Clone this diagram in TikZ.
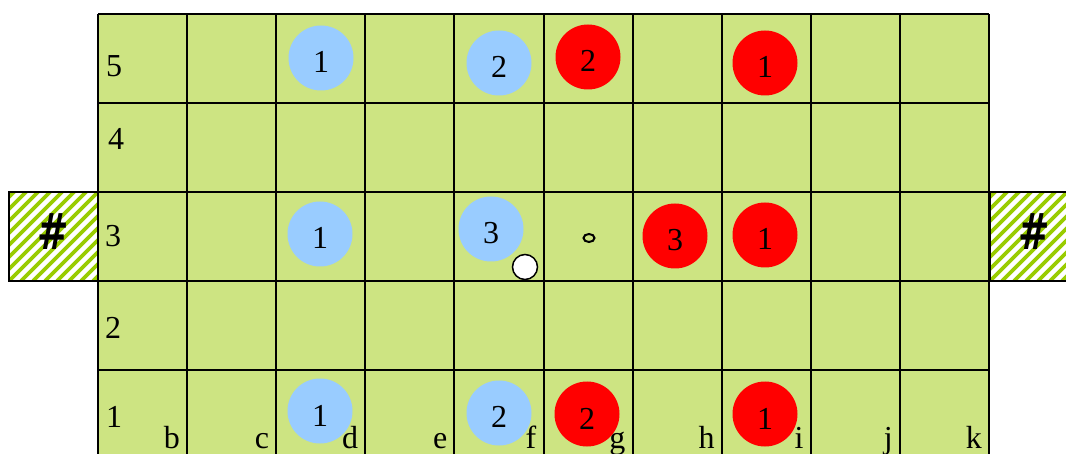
\documentclass[tikz,border=0pt]{standalone}
\usepackage{fontspec}
\setmainfont{Liberation Serif}
\newfontfamily\hashfont{DejaVu Sans}
\definecolor{boardgreen}{RGB}{205,228,130}
\definecolor{pieceblue}{RGB}{153,204,255}
\definecolor{piecered}{RGB}{255,0,0}
\definecolor{hatchgreen}{RGB}{153,204,0}
\tikzset{
  lbl/.style={inner sep=0pt, font=\fontsize{32}{32}\selectfont},
  piece/.style={circle, minimum size=65pt, inner sep=0pt, text height=30pt, text depth=0pt, font=\fontsize{32}{32}\selectfont},
  bluepiece/.style={piece, fill=pieceblue},
  redpiece/.style={piece, fill=piecered},
  hashmark/.style={inner sep=0pt, xscale=0.75, font=\hashfont\bfseries\fontsize{50}{50}\selectfont},
  gridline/.style={line width=2pt, black}
}
\begin{document}
\begin{tikzpicture}[x=1pt,y=-1pt]
\useasboundingbox (0,0) rectangle (1066,454);
\clip (0,0) rectangle (1066,454);
% board
\fill[boardgreen] (98,14) rectangle (989,459);
\foreach \k in {0,...,10} \draw[gridline] ({98+89.1*\k},14) -- ({98+89.1*\k},459);
\foreach \j in {0,...,5} \draw[gridline] (98,{14+89*\j}) -- (989,{14+89*\j});
% side boxes
\begin{scope}
\clip (9,192) rectangle (98,281);
\fill[white] (9,192) rectangle (98,281);
\foreach \i in {-10,...,10} \draw[hatchgreen, line width=3.6pt] ({9+\i*12},281) -- ++(100,-100);
\end{scope}
\draw[gridline] (9,192) rectangle (98,281);
\node[hashmark] (hl) at (53,232) {\#};
\begin{scope}
\clip (990,192) rectangle (1080,281);
\fill[white] (990,192) rectangle (1080,281);
\foreach \i in {-10,...,10} \draw[hatchgreen, line width=3.6pt] ({990+\i*12},281) -- ++(100,-100);
\end{scope}
\draw[gridline] (990,192) rectangle (1080,281);
\node[hashmark] (hr) at (1034,232) {\#};
% row labels
\node[lbl, anchor=base west] (r5) at (106,77) {5};
\node[lbl, anchor=base west] (r4) at (108,150) {4};
\node[lbl, anchor=base west] (r3) at (105,247) {3};
\node[lbl, anchor=base west] (r2) at (105,339) {2};
\node[lbl, anchor=base west] (r1) at (106,427) {1};
% column labels
\foreach \l [count=\k] in {b,c,d,e,f,g,h,i,j,k}
  \node[lbl, anchor=base east] (col\l) at ({98+89.1*\k-7},448) {\l};
% pieces row 5
\node[bluepiece] (b5d) at (321,58) {1};
\node[bluepiece] (b5f) at (499,63) {2};
\node[redpiece] (r5g) at (588,57) {2};
\node[redpiece] (r5i) at (765,63) {1};
% pieces row 3
\node[bluepiece] (b3d) at (320,234) {1};
\node[bluepiece] (b3f) at (491,229) {3};
\node[draw, circle, fill=white, line width=1.5pt, minimum size=25pt, inner sep=0pt] (ring) at (525,267) {};
\draw[line width=2pt] (589,238) ellipse (5.5pt and 4pt);
\node[redpiece] (r3h) at (675,236) {3};
\node[redpiece] (r3i) at (765,235) {1};
% pieces row 1
\node[bluepiece] (b1d) at (320,411) {1};
\node[bluepiece] (b1f) at (499,413) {2};
\node[redpiece] (r1g) at (587,414) {2};
\node[redpiece] (r1i) at (765,414) {1};
\end{tikzpicture}
\end{document}
